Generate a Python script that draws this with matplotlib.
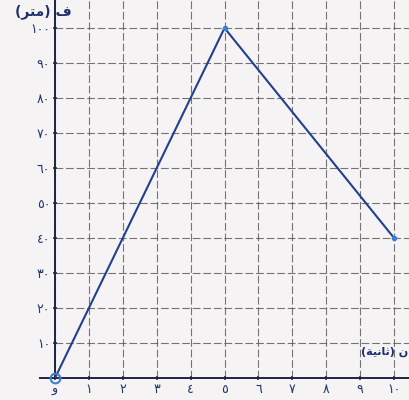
import matplotlib
matplotlib.use("Agg")
import matplotlib.pyplot as plt

# data
time_s = [0, 5, 10]
distance_m = [0, 100, 40]
x_ticks = list(range(0, 11))
x_tick_labels = ["و", "١", "٢", "٣", "٤", "٥", "٦", "٧", "٨", "٩", "١٠"]
y_ticks = list(range(10, 101, 10))
y_tick_labels = ["١٠", "٢٠", "٣٠", "٤٠", "٥٠", "٦٠", "٧٠", "٨٠", "٩٠", "١٠٠"]
y_label = "(\uFEAE\uFE98\uFEE3) \uFED1"          # ف (متر) shaped, visual order
x_label = "(\uFE94\uFEF4\uFEE7\uFE8E\uFE9B) \uFEE5"  # ن (ثانية) shaped, visual order

plt.rcParams['font.family'] = ['DejaVu Sans']
bg = '#f5f3f3'
fig = plt.figure(figsize=(4.1, 4.0), dpi=100, facecolor=bg)
ax = fig.add_axes([55/410, 22/400, 355/410, 378/400], facecolor=bg)
ax.set_xlim(0, 10.47)
ax.set_ylim(0, 108)

grid_c = '#555555'
ax.set_xticks(x_ticks)
ax.set_xticklabels(x_tick_labels, fontsize=9, color='#22366e')
ax.set_yticks(y_ticks)
ax.set_yticklabels(y_tick_labels, fontsize=9, color='#22366e')
ax.tick_params(axis='both', length=3, width=1.2, direction='inout', color='#1e2e5c', pad=2)
ax.grid(True, color=grid_c, linestyle=(0, (7, 2.5)), linewidth=0.8, alpha=0.8)

for s in ['top', 'right']:
    ax.spines[s].set_visible(False)
ax.spines['left'].set_color('#1e2440')
ax.spines['left'].set_linewidth(1.4)
ax.spines['bottom'].set_color('#1e2440')
ax.spines['bottom'].set_linewidth(1.4)
ax.plot([-0.45, 0], [0, 0], color='#1e2440', lw=1.4, clip_on=False)

ax.plot(time_s, distance_m, color='#23408e', lw=1.5, zorder=3)
ax.plot([time_s[0]], [distance_m[0]], 'o', ms=7, mfc='none', mec='#3d7fd0', mew=1.5, clip_on=False, zorder=4)
ax.plot(time_s[1:], distance_m[1:], 'o', ms=3, color='#3d7fd0', zorder=4, clip_on=False)

fig.text(15/410, 1 - 12/400, y_label, fontsize=10, color='#1e2e6c', ha='left', va='center', fontweight='bold')
fig.text(408/410, 1 - 352/400, x_label, fontsize=8, color='#1e2e6c', ha='right', va='center', fontweight='bold')

fig.savefig("out.png", dpi=100, facecolor=bg)
